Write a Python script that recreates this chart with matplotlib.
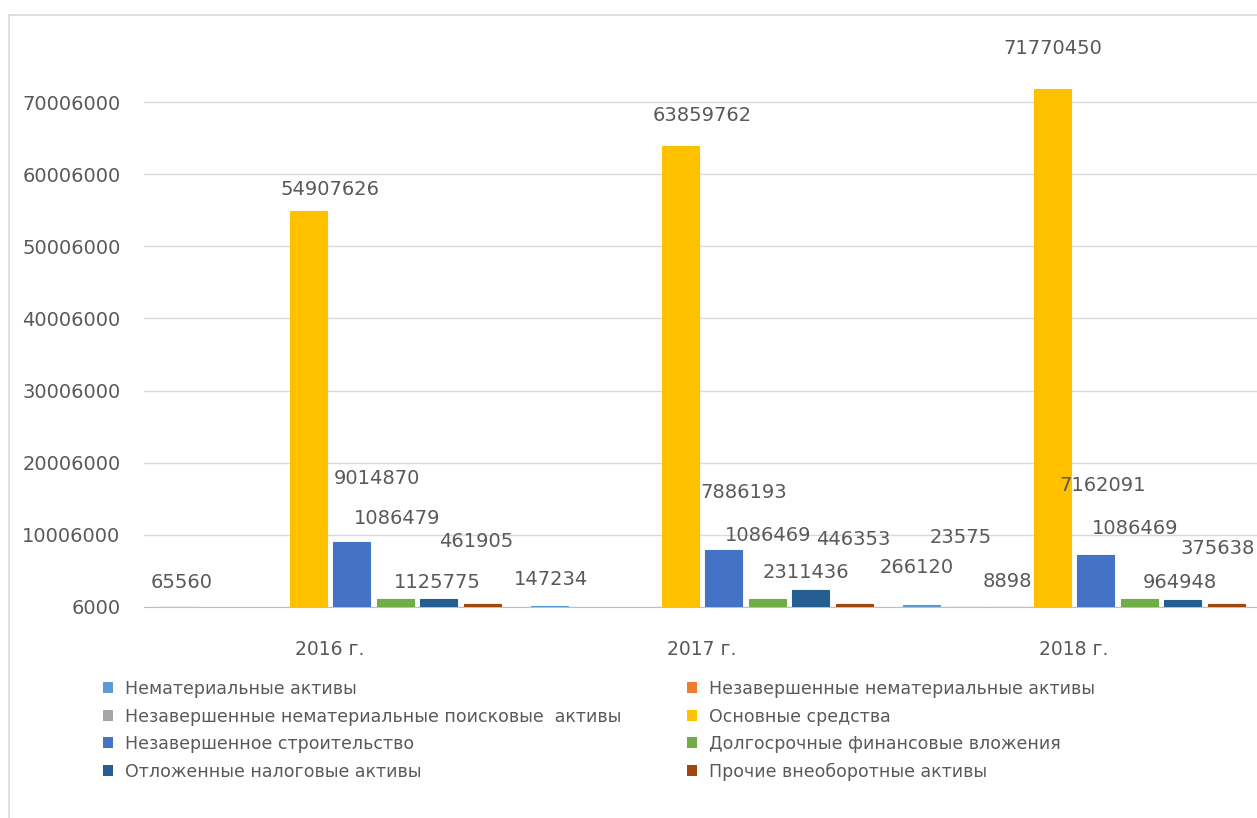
import numpy as np
import matplotlib
matplotlib.use("Agg")
import matplotlib.pyplot as plt
from matplotlib.lines import Line2D
from matplotlib.patches import Patch

# balance sheet: non-current assets by year
years = ['2016 г.', '2017 г.', '2018 г.']
series_names = [
    'Нематериальные активы',
    'Незавершенные нематериальные активы',
    'Незавершенные нематериальные поисковые  активы',
    'Основные средства',
    'Незавершенное строительство',
    'Долгосрочные финансовые вложения',
    'Отложенные налоговые активы',
    'Прочие внеоборотные активы',
]
intangible = [65560, 147234, 266120]
intangible_wip = [np.nan, np.nan, 23575]
exploration_wip = [np.nan, np.nan, 8898]
fixed_assets = [54907626, 63859762, 71770450]
construction = [9014870, 7886193, 7162091]
fin_investments = [1086479, 1086469, 1086469]
deferred_tax = [1125775, 2311436, 964948]
other_assets = [461905, 446353, 375638]

values = [intangible, intangible_wip, exploration_wip, fixed_assets,
          construction, fin_investments, deferred_tax, other_assets]
colors = ['#5B9BD5', '#ED7D31', '#A5A5A5', '#FFC000',
          '#4472C4', '#70AD47', '#255E91', '#9E480E']

# data label offsets from bar top (pixels), one row per series
label_offsets = [
    [(4, 24), (1, 26), (-5, 38)],
    [(0, 0), (0, 0), (-5, 69)],
    [(0, 0), (0, 0), (-1, 25)],
    [(22, 21), (22, 31), (1, 41)],
    [(25, 64), (20, 58), (7, 70)],
    [(2, 81), (1, 64), (-4, 71)],
    [(-1, 16), (-5, 18), (-3, 18)],
    [(-6, 62), (-1, 64), (-9, 56)],
]

text_color = '#595959'
grid_color = '#D9D9D9'
base = 6000

plt.rcParams['font.family'] = ['DejaVu Sans']

fig = plt.figure(figsize=(12.57, 8.18), dpi=100)
ax = fig.add_axes([144 / 1257, 211 / 818, 1116 / 1257, 582 / 818])

x = np.arange(len(years))
slot = 0.117
width = 0.1
handles = []
for i, (name, vals, col) in enumerate(zip(series_names, values, colors)):
    xs = x + (i - 3.5) * slot
    ax.bar(xs, vals, width=width, color=col, edgecolor=col, linewidth=0.8, zorder=2)
    handles.append(Patch(facecolor=col, edgecolor='none', label=name))
    for j, v in enumerate(vals):
        if np.isnan(v):
            continue
        dx, dy = label_offsets[i][j]
        ax.annotate(f'{v:.0f}', xy=(xs[j], v), xytext=(dx, dy),
                    textcoords='offset pixels', ha='center', va='center',
                    fontsize=14, color=text_color, zorder=4)

ax.set_xlim(-0.5, 2.5)
ax.set_ylim(base, base + 80.68e6)
ax.set_yticks([base + k * 10_000_000 for k in range(8)])
ax.yaxis.set_major_formatter(matplotlib.ticker.FuncFormatter(lambda v, p: f'{v:.0f}'))
ax.set_xticks(x)
ax.set_xticklabels(years)
ax.tick_params(axis='y', length=0, pad=17, labelsize=14, labelcolor=text_color)
ax.tick_params(axis='x', length=0, pad=24, labelsize=13.5, labelcolor=text_color)
ax.grid(axis='y', color=grid_color, linewidth=1, zorder=0)
ax.set_axisbelow(True)
for side in ['top', 'right', 'left']:
    ax.spines[side].set_visible(False)
ax.spines['bottom'].set_color('#BFBFBF')
ax.spines['bottom'].set_zorder(1)

# legend laid out row by row in two columns
leg_kw = dict(loc='upper left', frameon=False, fontsize=12.5, labelcolor=text_color,
              handlelength=0.6, handleheight=0.6, handletextpad=0.65,
              labelspacing=0.55, borderpad=0, borderaxespad=0)
fig.legend(handles=handles[0::2], bbox_to_anchor=(103 / 1257, 1 - 680 / 818), **leg_kw)
fig.legend(handles=handles[1::2], bbox_to_anchor=(687 / 1257, 1 - 680 / 818), **leg_kw)

# chart frame
fig.add_artist(Line2D([9 / 1257, 9 / 1257], [0, 1 - 15 / 818], transform=fig.transFigure,
                      color=grid_color, linewidth=1.2))
fig.add_artist(Line2D([9 / 1257, 1], [1 - 15 / 818, 1 - 15 / 818], transform=fig.transFigure,
                      color=grid_color, linewidth=1.2))

fig.savefig('out.png', dpi=100, facecolor='white')
